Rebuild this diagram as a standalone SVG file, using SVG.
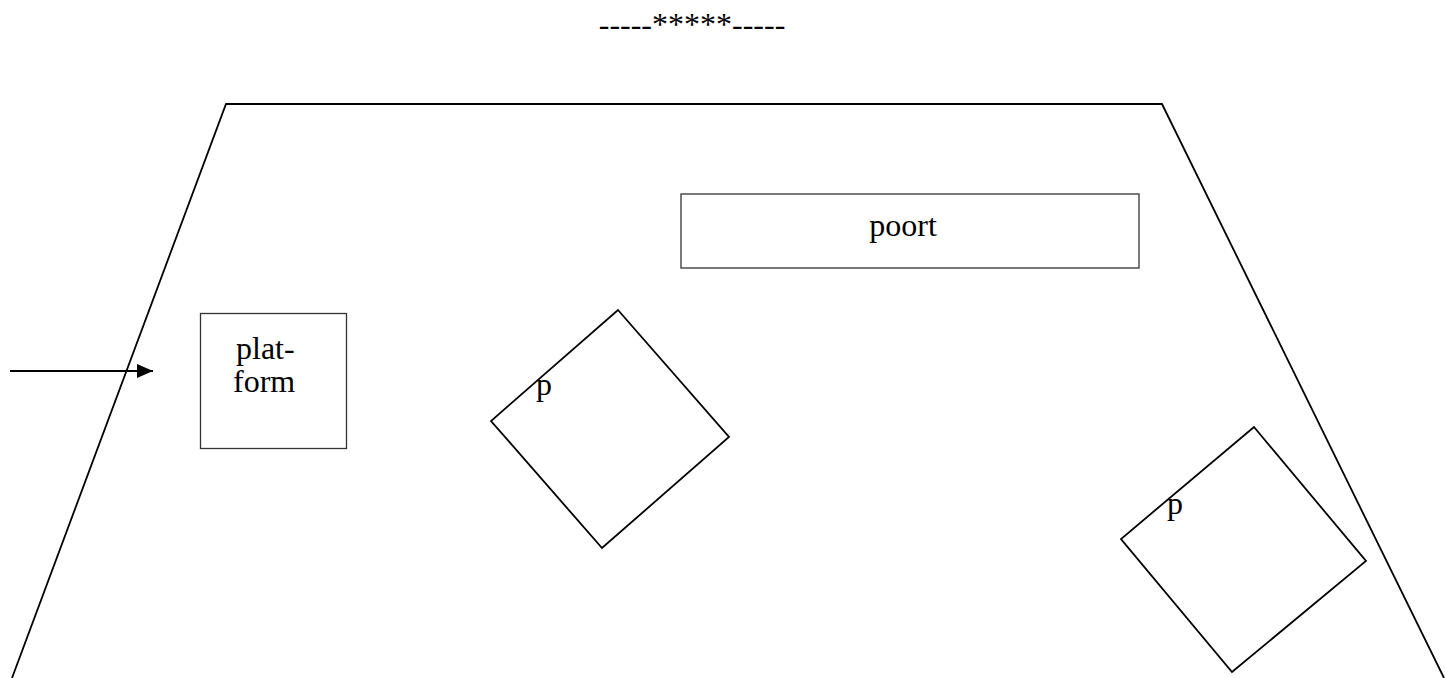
<svg xmlns="http://www.w3.org/2000/svg" width="1445" height="678" viewBox="0 0 1445 678">
<style>
.t{font-family:"Liberation Serif","Times New Roman",serif;font-size:32px;fill:#000}
.box{fill:none;stroke:#333;stroke-width:1.3}
.sq{fill:none;stroke:#000;stroke-width:1.8}
.edge{fill:none;stroke:#000;stroke-width:1.8}
</style>
<defs>
<marker id="ah" markerWidth="16" markerHeight="14" refX="16" refY="7" orient="auto" markerUnits="userSpaceOnUse">
<path d="M0,0 L16,7 L0,14 Z" fill="#000"/>
</marker>
</defs>
<rect width="1445" height="678" fill="#fff"/>
<text class="t" x="692" y="35" text-anchor="middle">-----*****-----</text>
<g id="field">
<path class="edge" d="M12,678 L226,104 L1162,104 L1444,678"/>
</g>
<g id="poort">
<rect class="box" x="681" y="194" width="458" height="74"/>
<text class="t" x="903" y="236" text-anchor="middle">poort</text>
</g>
<g id="platform">
<rect class="box" x="200.5" y="313.5" width="146" height="135"/>
<text class="t" x="236" y="359">plat-</text>
<text class="t" x="233" y="392">form</text>
</g>
<g id="p1">
<polygon class="sq" points="618,310 729,437 602,548 491,421"/>
<text class="t" x="536" y="395">p</text>
</g>
<g id="p2">
<polygon class="sq" points="1254,427 1366,561 1232,672 1121,539"/>
<text class="t" x="1167" y="514">p</text>
</g>
<g id="connectors">
<line x1="10" y1="371" x2="153" y2="371" stroke="#000" stroke-width="2.2" marker-end="url(#ah)"/>
</g>
</svg>
